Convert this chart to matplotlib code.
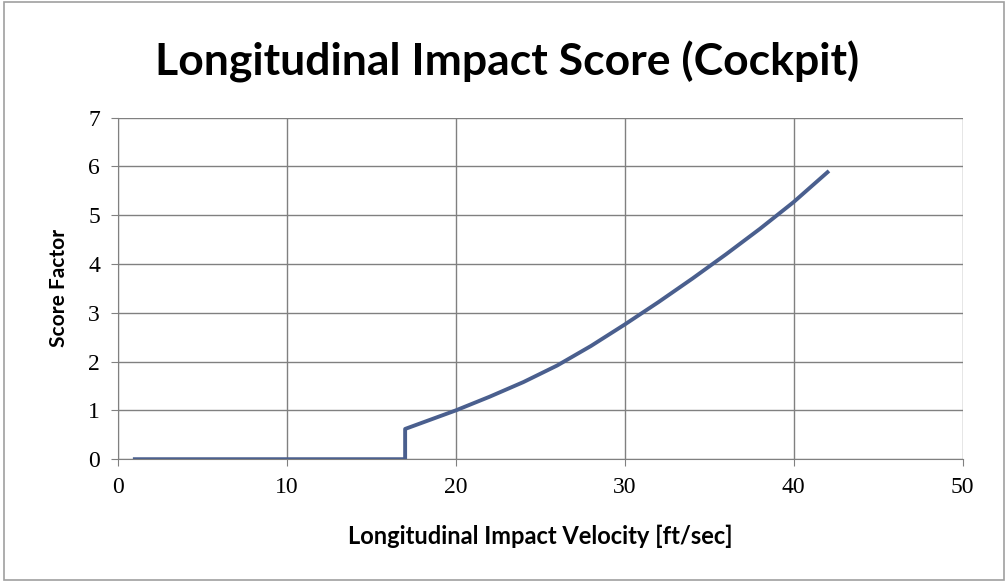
import matplotlib.pyplot as plt

# Data
velocity = [1, 17, 17, 20, 22, 24, 26, 28, 30, 32, 34, 36, 38, 40, 42]
score = [0, 0, 0.62, 1.0, 1.28, 1.58, 1.92, 2.32, 2.76, 3.22, 3.70, 4.20, 4.72, 5.27, 5.88]

x_ticks = [0, 10, 20, 30, 40, 50]
y_ticks = [0, 1, 2, 3, 4, 5, 6, 7]

fig = plt.figure(figsize=(10.08, 5.82), dpi=100)
fig.patch.set_facecolor("white")

# light border round the chart area
border = plt.Rectangle((0.004, 0.004), 0.992, 0.992, transform=fig.transFigure,
                       fill=False, edgecolor="#a0a0a0", linewidth=1.2)
fig.add_artist(border)

ax = fig.add_axes([0.117, 0.211, 0.838, 0.587])
ax.plot(velocity, score, color="#4a5f8e", linewidth=2.8, solid_joinstyle="round")

ax.set_xlim(0, 50)
ax.set_ylim(0, 7)
ax.set_xticks(x_ticks)
ax.set_yticks(y_ticks)
ax.grid(True, color="#808080", linewidth=1)
ax.set_axisbelow(True)

for side in ["top", "right"]:
    ax.spines[side].set_visible(False)
for side in ["left", "bottom"]:
    ax.spines[side].set_color("#808080")

ax.tick_params(direction="out", length=5, color="#808080", labelsize=17, pad=8)
for lbl in ax.get_xticklabels() + ax.get_yticklabels():
    lbl.set_family("Liberation Serif")

ax.set_xlabel("Longitudinal Impact Velocity [ft/sec]", fontsize=17, fontfamily="Lato",
              fontweight="bold", labelpad=19)
ax.set_ylabel("Score Factor", fontsize=15, fontfamily="Lato", fontweight="bold", labelpad=14)

fig.text(0.503, 0.893, "Longitudinal Impact Score (Cockpit)", ha="center", va="center",
         fontsize=32, fontweight="bold", fontfamily="Lato")

fig.savefig("out.png", dpi=100)
